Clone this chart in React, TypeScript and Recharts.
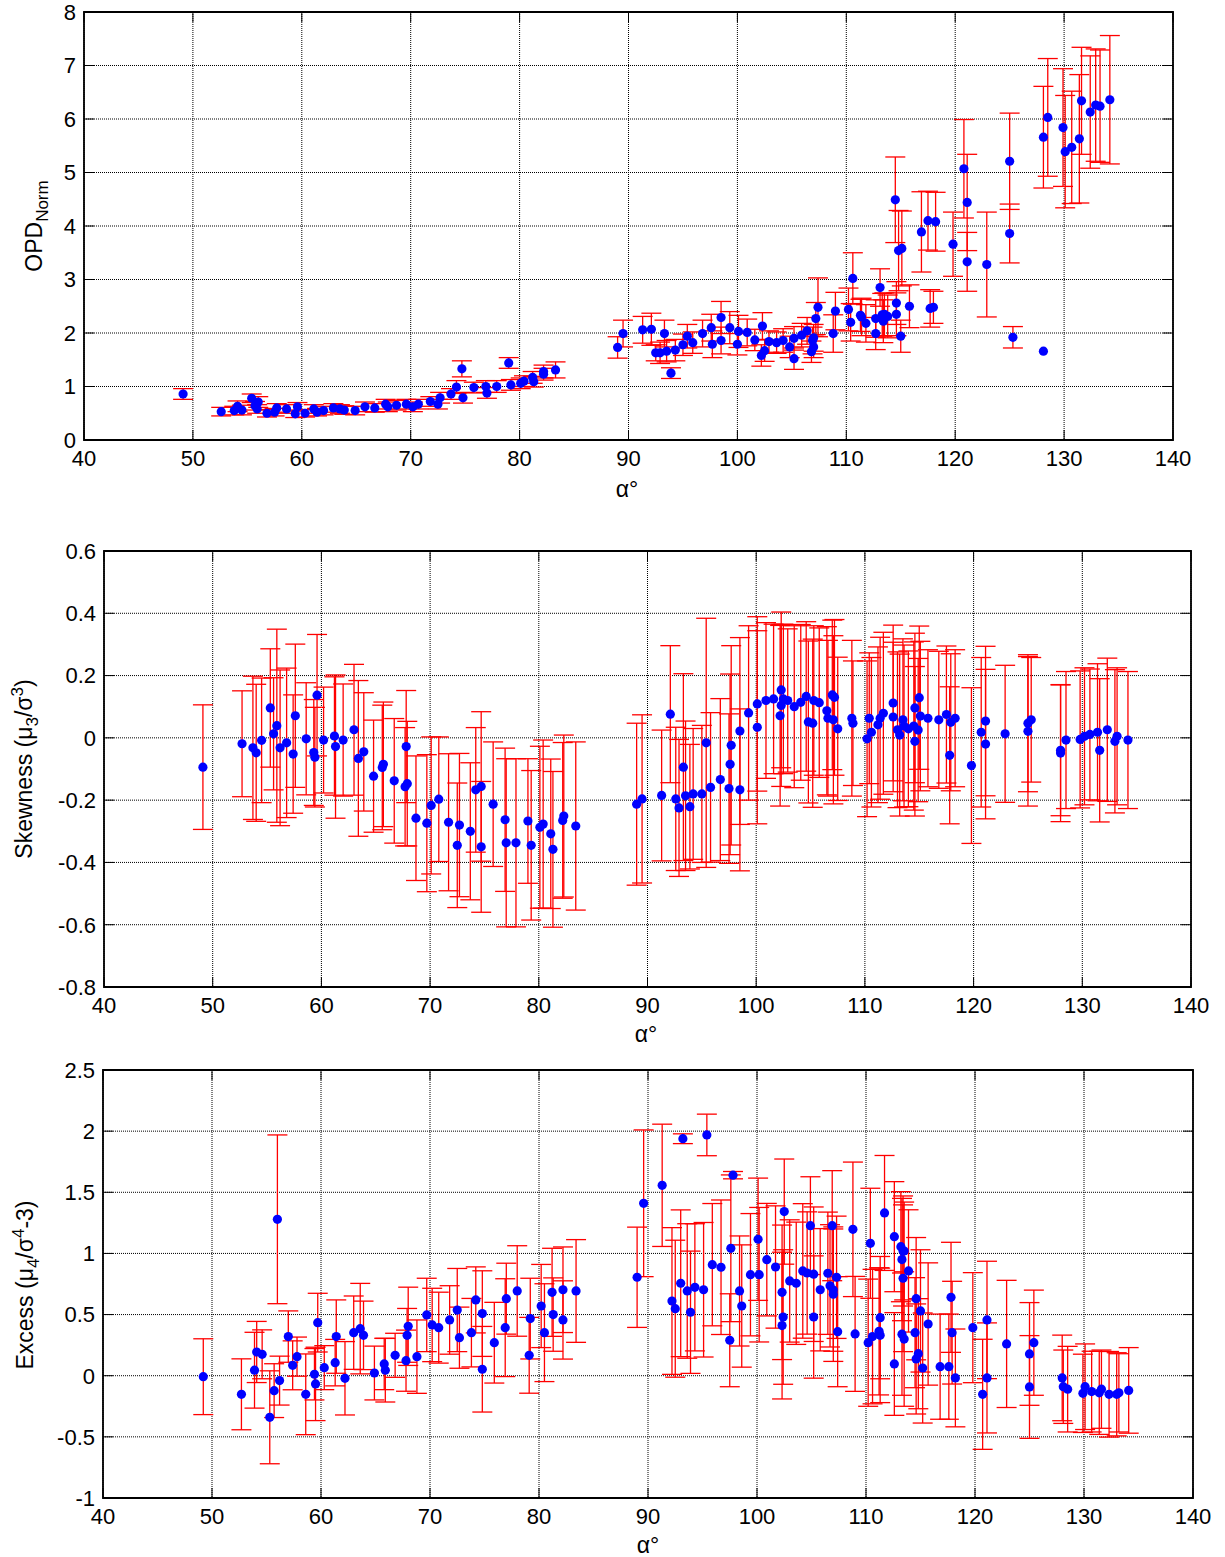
import React from "react"
import { ScatterChart, Scatter, XAxis, YAxis, CartesianGrid, ErrorBar, ReferenceArea } from "recharts"

// alpha (deg) shared tick labels
const alphaTicks = [40, 50, 60, 70, 80, 90, 100, 110, 120, 130, 140]

// OPD_Norm panel
const opdAlpha = [
  49.1, 52.6, 53.8, 54.1, 54.5, 55.4, 55.7, 56.0, 55.9, 56.8, 57.5, 57.7, 58.6, 59.4, 59.6, 60.3, 61.1, 61.4, 62.0, 62.9,
  63.5, 63.9, 64.9, 65.8, 66.7, 67.7, 67.9, 68.7, 69.6, 70.2, 70.7, 71.8, 72.5, 72.7, 73.7, 74.2, 74.7, 74.8, 75.8, 76.9,
  77.0, 77.9, 79.0, 79.2, 80.1, 80.4, 81.2, 81.3, 82.2, 82.2, 83.3,
  89.0, 89.5, 91.3, 92.1, 92.5, 92.9, 93.3, 93.5, 93.9, 94.3, 95.0, 95.4, 95.9, 96.8, 97.6, 97.7, 98.5, 98.5, 99.3, 100.0,
  100.1, 100.9, 101.6, 102.3, 102.2, 102.5, 102.9, 103.6, 104.2, 104.8, 105.2, 105.2, 105.9, 106.4, 106.9, 107.0, 106.8,
  107.0, 107.2, 107.4, 108.8, 109.0, 110.2, 110.4, 110.6, 111.3, 111.4, 111.8, 112.7, 112.7, 113.1, 113.3, 113.4, 113.5,
  113.8, 114.6, 114.6, 114.5, 115.0, 114.8, 115.1, 115.8, 116.9, 117.5, 118.2, 117.7, 118.0, 119.8, 120.8, 121.1, 121.1,
  122.9, 125.0, 125.0, 125.3, 128.1, 128.1, 128.5, 129.9, 130.1, 130.7, 131.4, 131.6, 132.4, 132.9, 133.3, 134.2,
]
const opdValue = [
  0.86, 0.53, 0.55, 0.63, 0.56, 0.78, 0.64, 0.71, 0.58, 0.5, 0.52, 0.6, 0.58, 0.49, 0.62, 0.5, 0.58, 0.52, 0.55, 0.6,
  0.58, 0.56, 0.55, 0.62, 0.6, 0.67, 0.62, 0.65, 0.67, 0.62, 0.67, 0.72, 0.67, 0.79, 0.86, 0.99, 1.33, 0.79, 0.98, 1.0,
  0.88, 1.0, 1.44, 1.03, 1.06, 1.1, 1.17, 1.09, 1.28, 1.23, 1.31,
  1.73, 1.99, 2.06, 2.07, 1.63, 1.63, 1.99, 1.66, 1.25, 1.68, 1.78, 1.94, 1.82, 1.99, 2.1, 1.79, 2.29, 1.86, 2.1, 1.79,
  2.03, 2.01, 1.87, 2.13, 1.58, 1.67, 1.84, 1.82, 1.86, 1.74, 1.52, 1.9, 1.96, 2.04, 1.86, 1.74, 1.65,
  1.91, 2.27, 2.48, 1.99, 2.41, 2.44, 2.2, 3.02, 2.33, 2.3, 2.18, 1.99, 2.27, 2.85, 2.34, 2.22, 2.35,
  2.31, 2.56, 2.35, 4.49, 1.94, 3.54, 3.58, 2.5, 3.89, 4.1, 4.08, 2.46, 2.48, 3.66, 5.07, 4.44, 3.33,
  3.28, 5.21, 3.86, 1.92, 1.66, 5.66, 6.03, 5.84, 5.39, 5.47, 5.63, 6.34, 6.13, 6.26, 6.24, 6.36,
]
const opdError = [
  0.1, 0.08, 0.08, 0.1, 0.09, 0.08, 0.08, 0.1, 0.08, 0.07, 0.07, 0.08, 0.08, 0.07, 0.08, 0.07, 0.08, 0.07, 0.08, 0.08,
  0.08, 0.08, 0.08, 0.09, 0.08, 0.09, 0.09, 0.09, 0.09, 0.09, 0.09, 0.09, 0.09, 0.1, 0.1, 0.12, 0.15, 0.1, 0.1, 0.11,
  0.1, 0.11, 0.1, 0.1, 0.1, 0.1, 0.11, 0.1, 0.12, 0.11, 0.15,
  0.2, 0.25, 0.25, 0.3, 0.15, 0.2, 0.25, 0.2, 0.1, 0.2, 0.2, 0.22, 0.2, 0.25, 0.25, 0.25, 0.3, 0.25, 0.3, 0.2,
  0.3, 0.25, 0.2, 0.25, 0.2, 0.2, 0.2, 0.2, 0.22, 0.2, 0.2, 0.22, 0.22, 0.25, 0.25, 0.2, 0.2,
  0.25, 0.3, 0.55, 0.35, 0.35, 0.4, 0.35, 0.48, 0.3, 0.35, 0.35, 0.3, 0.35, 0.35, 0.4, 0.4, 0.4,
  0.4, 0.4, 0.4, 0.8, 0.3, 0.75, 0.7, 0.4, 0.75, 0.55, 0.55, 0.35, 0.3, 0.6, 0.92, 0.9, 0.55,
  0.98, 0.9, 0.55, 0.2, 0, 0.95, 1.1, 1.1, 1.05, 1.05, 1.2, 1.0, 1.05, 1.05, 1.05, 1.2,
]

// skewness panel
const skewAlpha = [
  49.1, 52.7, 53.7, 54.0, 54.5, 55.3, 55.6, 55.9, 56.2, 56.8, 57.4, 57.6, 58.6, 59.3, 59.4, 59.6, 60.2, 61.2, 61.3, 62.0,
  63.0, 63.4, 63.9, 64.8, 65.6, 65.7, 66.7, 67.7, 67.9, 67.8, 68.7, 69.7, 70.1, 70.8, 71.7, 72.5, 72.7, 73.7, 74.2, 74.7,
  74.7, 75.8, 76.9, 77.0, 77.9, 79.0, 79.3, 80.1, 80.4, 81.1, 81.3, 82.2, 82.3, 83.4,
  89.0, 89.5, 91.3, 92.1, 92.6, 92.9, 93.3, 93.5, 93.9, 94.2, 95.0, 95.4, 95.8, 96.7, 97.5, 97.6, 97.7, 98.5, 98.5, 99.3,
  100.1, 100.1, 100.9, 101.6, 102.2, 102.3, 102.3, 102.5, 102.9, 103.5, 104.1, 104.6, 104.8, 105.2, 105.3, 105.8, 106.5,
  106.6, 107.0, 107.2, 107.1, 107.5, 108.8, 108.9, 110.2, 110.4, 110.6, 111.2, 111.4, 111.7, 112.6, 112.6, 113.0, 113.2,
  113.5, 113.6, 114.0, 114.6, 114.6, 114.5, 114.9, 115.0, 115.1, 115.8, 116.8, 117.5, 117.8, 117.9, 118.3, 119.8, 120.7,
  121.1, 121.1, 122.9, 125.0, 125.0, 125.3, 128.0, 128.0, 128.5, 129.8, 130.2, 130.7, 131.4, 131.6, 132.3, 133.0, 133.2,
  134.2,
]
const skewValue = [
  -0.094, -0.019, -0.032, -0.048, -0.008, 0.096, 0.013, 0.039, -0.032, -0.016, -0.052, 0.071, -0.003, -0.047, -0.062,
  0.137, -0.007, 0.006, -0.028, -0.007, 0.026, -0.066, -0.045, -0.123, -0.095, -0.085, -0.138, -0.157, -0.147, -0.028,
  -0.258, -0.274, -0.217, -0.197, -0.271, -0.345, -0.28, -0.3, -0.167, -0.156, -0.35, -0.213, -0.263, -0.337, -0.337,
  -0.267, -0.345, -0.287, -0.277, -0.308, -0.358, -0.265, -0.251, -0.283,
  -0.213, -0.196, -0.185, 0.076, -0.196, -0.225, -0.094, -0.186, -0.221, -0.18, -0.18, -0.016, -0.159, -0.134, -0.163,
  -0.085, -0.024, -0.167, 0.022, 0.08, 0.034, 0.109, 0.12, 0.125, 0.071, 0.154, 0.104, 0.125, 0.12, 0.1, 0.114, 0.133,
  0.051, 0.047, 0.12, 0.113, 0.087, 0.063, 0.138, 0.13, 0.058, 0.029, 0.063, 0.047, -0.003, 0.063, 0.018, 0.042, 0.063,
  0.079, 0.112, 0.067, 0.026, 0.009, 0.058, 0.038, 0.029, 0.096, -0.011, 0.038, 0.025, 0.129, 0.07, 0.063, 0.058, 0.075,
  -0.056, 0.05, 0.063, -0.089, 0.018, 0.054, -0.02, 0.013, 0.047, 0.021, 0.058, -0.04, -0.049, -0.007, -0.005, 0.005,
  0.011, 0.018, -0.04, 0.026, -0.011, 0.005, -0.007,
]
const skewError = [
  0.2, 0.17, 0.23, 0.22, 0.2, 0.19, 0.18, 0.31, 0.25, 0.24, 0.19, 0.23, 0.18, 0.17, 0.16, 0.195, 0.17, 0.19, 0.23, 0.18,
  0.21, 0.25, 0.19, 0.18, 0.2, 0.2, 0.2, 0.19, 0.2, 0.18, 0.2, 0.22, 0.22, 0.2, 0.22, 0.2, 0.23, 0.22, 0.2, 0.24,
  0.21, 0.2, 0.23, 0.27, 0.27, 0.2, 0.24, 0.26, 0.27, 0.24, 0.25, 0.25, 0.26, 0.27,
  0.26, 0.27, 0.21, 0.22, 0.23, 0.22, 0.3, 0.24, 0.2, 0.21, 0.22, 0.4, 0.24, 0.26, 0.24, 0.29, 0.32, 0.26, 0.3, 0.28,
  0.31, 0.28, 0.25, 0.24, 0.29, 0.25, 0.26, 0.24, 0.23, 0.26, 0.25, 0.24, 0.26, 0.27, 0.24, 0.24, 0.27,
  0.25, 0.24, 0.25, 0.27, 0.23, 0.25, 0.2, 0.25, 0.21, 0.24, 0.25, 0.26, 0.26, 0.25, 0.24, 0.25, 0.26,
  0.26, 0.26, 0.25, 0.24, 0.24, 0.27, 0.23, 0.23, 0.24, 0.22, 0.22, 0.22, 0.22, 0.22, 0.22, 0.25, 0.24,
  0.24, 0.24, 0.22, 0.22, 0.24, 0.2, 0.21, 0.22, 0.22, 0.22, 0.22, 0.21, 0.22, 0.23, 0.23, 0.23, 0.22,
  0.22,
]

// excess kurtosis panel
const excessAlpha = [
  49.2, 52.7, 53.9, 54.1, 54.6, 55.3, 55.7, 56.0, 56.2, 57.0, 57.4, 57.8, 58.6, 59.4, 59.5, 59.7, 60.3, 61.3, 61.4, 62.2,
  63.0, 63.6, 63.9, 64.9, 65.8, 65.9, 66.8, 67.8, 67.9, 68.0, 68.8, 69.7, 70.2, 70.8, 71.8, 72.5, 72.7, 73.8, 74.2, 74.8,
  74.8, 75.9, 76.9, 77.0, 78.0, 79.1, 79.2, 80.2, 80.5, 81.2, 81.3, 82.2, 82.2, 83.4,
  89.0, 89.6, 91.3, 92.2, 92.5, 93.0, 93.2, 93.6, 93.9, 94.3, 95.1, 95.4, 95.9, 96.7, 97.5, 97.6, 97.8, 98.4, 98.6, 99.4,
  100.1, 100.2, 100.9, 101.7, 102.3, 102.4, 102.3, 102.5, 103.0, 103.6, 104.2, 104.6, 104.9, 105.2, 105.2, 105.8, 106.5,
  106.7, 106.9, 107.0, 107.0, 107.3, 107.4, 108.8, 109.0, 110.2, 110.4, 110.6, 111.2, 111.3, 111.3, 111.7, 112.6, 112.6,
  113.2, 113.3, 113.3, 113.4, 113.4, 113.5, 113.5, 113.9, 114.5, 114.6, 114.6, 114.8, 115.0, 115.2, 115.7, 116.8, 117.6,
  117.8, 117.9, 118.2, 119.8, 120.7, 121.1, 121.1, 122.9, 125.0, 125.0, 125.4, 128.0, 128.1, 128.5, 129.9, 130.1, 130.7,
  131.4, 131.6, 132.3, 133.0, 133.2, 134.1,
]
const excessValue = [
  -0.008, -0.152, 0.045, 0.194, 0.175, -0.34, -0.122, 1.279, -0.04, 0.32, 0.085, 0.156, -0.152, 0.012, -0.067, 0.434,
  0.066, 0.107, 0.32, -0.021, 0.352, 0.385, 0.33, 0.022, 0.096, 0.045, 0.167, 0.123, 0.33, 0.404, 0.156, 0.497, 0.415,
  0.393, 0.456, 0.537, 0.311, 0.352, 0.62, 0.508, 0.053, 0.27, 0.393, 0.63, 0.693, 0.167, 0.467, 0.57, 0.352, 0.682, 0.5,
  0.703, 0.456, 0.693,
  0.805, 1.41, 1.557, 0.611, 0.548, 0.756, 1.938, 0.693, 0.519, 0.723, 0.703, 1.969, 0.908, 0.887, 0.29, 1.042, 1.64,
  0.693, 0.57, 0.826, 1.116, 0.826, 0.949, 0.889, 0.682, 0.48, 0.41, 1.342, 0.775, 0.756, 0.857, 0.84, 1.227, 0.48, 0.83,
  0.703, 0.838, 0.735, 1.227, 0.7, 0.667, 0.805, 0.36, 1.197, 0.342, 0.27, 1.083, 0.32, 0.363, 0.475, 0.33, 1.331, 1.137,
  0.096, 1.055, 0.34, 0.95, 1.02, 0.797, 0.3, 1.02, 0.857, 0.352, 0.63, 0.137, 0.18, 0.53, 0.063, 0.423, 0.074, 0.074,
  0.641, 0.352, -0.018, 0.393, -0.152, 0.456, -0.018, 0.26, 0.178, -0.092, 0.27, -0.018, -0.09, -0.11, -0.144, -0.09,
  -0.13, -0.14, -0.11, -0.152, -0.152, -0.14, -0.12,
]
const excessError = [
  0.31, 0.29, 0.31, 0.25, 0.2, 0.38, 0.22, 0.69, 0.2, 0.21, 0.2, 0.16, 0.33, 0.21, 0.3, 0.24, 0.18, 0.19, 0.3, 0.3,
  0.3, 0.37, 0.28, 0.22, 0.21, 0.26, 0.18, 0.25, 0.22, 0.32, 0.3, 0.3, 0.3, 0.29, 0.28, 0.34, 0.25, 0.28, 0.27, 0.35,
  0.35, 0.33, 0.4, 0.29, 0.37, 0.31, 0.33, 0.34, 0.4, 0.36, 0.3, 0.35, 0.32, 0.42,
  0.41, 0.6, 0.5, 0.6, 0.56, 0.6, 0.04, 0.55, 0.5, 0.52, 0.55, 0.17, 0.5, 0.55, 0.38, 0.6, 0.03, 0.45, 0.5, 0.5,
  0.5, 0.55, 0.46, 0.5, 0.55, 0.55, 0.6, 0.43, 0.5, 0.5, 0.55, 0.5, 0.4, 0.5, 0.55, 0.5, 0.5,
  0.5, 0.45, 0.5, 0.55, 0.5, 0.45, 0.55, 0.47, 0.52, 0.45, 0.55, 0.52, 0.5, 0.55, 0.47, 0.45, 0.42,
  0.45, 0.5, 0.5, 0.45, 0.6, 0.55, 0.4, 0.5, 0.45, 0.5, 0.45, 0.45, 0.5, 0.45, 0.5, 0.43, 0.43,
  0.45, 0.42, 0.4, 0.45, 0.45, 0.48, 0.45, 0.52, 0.42, 0.42, 0.43, 0.35, 0.3, 0.35, 0.32, 0.35, 0.33,
  0.34, 0.32, 0.35, 0.34, 0.32, 0.35,
]

const opdTicks = [0, 1, 2, 3, 4, 5, 6, 7, 8]
const skewTicks = [-0.8, -0.6, -0.4, -0.2, 0, 0.2, 0.4, 0.6]
const excessTicks = [-1, -0.5, 0, 0.5, 1, 1.5, 2, 2.5]

const FONT = '"Liberation Sans", Arial, Helvetica, sans-serif'
const TICK_LEN = 10
const X_DOMAIN: [number, number] = [40, 140]

const zip = (a: number[], v: number[], e: number[]) => a.map((x, i) => ({ x, y: v[i], e: e[i] }))

const Dot = (props: any) => <circle cx={props.cx} cy={props.cy} r={4.6} fill="#0000ff" />

function makeXTick(plotH: number) {
  return (props: any) => {
    const { x, y, payload } = props
    const axisY = y - 8
    return (
      <g>
        <line x1={x} x2={x} y1={axisY} y2={axisY - TICK_LEN} stroke="#000" strokeWidth={1} />
        <line x1={x} x2={x} y1={axisY - plotH} y2={axisY - plotH + TICK_LEN} stroke="#000" strokeWidth={1} />
        <text x={x} y={y + 2} dy="0.71em" textAnchor="middle" fontSize={22} fontFamily={FONT} fill="#000">
          {payload.value}
        </text>
      </g>
    )
  }
}

function makeYTick(plotW: number) {
  return (props: any) => {
    const { x, y, payload } = props
    const axisX = x + 8
    return (
      <g>
        <line x1={axisX} x2={axisX + TICK_LEN} y1={y} y2={y} stroke="#000" strokeWidth={1} />
        <line x1={axisX + plotW} x2={axisX + plotW - TICK_LEN} y1={y} y2={y} stroke="#000" strokeWidth={1} />
        <text x={x} y={y} dy="0.355em" textAnchor="end" fontSize={22} fontFamily={FONT} fill="#000">
          {payload.value}
        </text>
      </g>
    )
  }
}

type PanelProps = {
  top: number
  height: number
  margin: { top: number; right: number; bottom: number; left: number }
  data: { x: number; y: number; e: number }[]
  yDomain: [number, number]
  yTicks: number[]
}

function Panel({ top, height, margin, data, yDomain, yTicks }: PanelProps) {
  const plotW = 1225 - margin.left - margin.right - 60
  const plotH = height - margin.top - margin.bottom - 30
  return (
    <div style={{ position: "absolute", top, left: 0 }}>
      <ScatterChart width={1225} height={height} margin={margin}>
        <CartesianGrid stroke="#000" strokeWidth={1} strokeDasharray="1 1" />
        <XAxis
          type="number"
          dataKey="x"
          domain={X_DOMAIN}
          ticks={alphaTicks}
          interval={0}
          height={30}
          tickLine={false}
          axisLine={false}
          tick={makeXTick(plotH)}
          allowDataOverflow
        />
        <YAxis
          type="number"
          dataKey="y"
          domain={yDomain}
          ticks={yTicks}
          interval={0}
          width={60}
          tickLine={false}
          axisLine={false}
          tick={makeYTick(plotW)}
          allowDataOverflow
        />
        {/* axes box */}
        <ReferenceArea
          x1={X_DOMAIN[0]}
          x2={X_DOMAIN[1]}
          y1={yDomain[0]}
          y2={yDomain[1]}
          fill="none"
          fillOpacity={0}
          stroke="#000"
          strokeWidth={1.8}
          ifOverflow="visible"
        />
        <Scatter data={data} shape={Dot} isAnimationActive={false}>
          <ErrorBar dataKey="e" direction="y" width={10} stroke="#ff0000" strokeWidth={1.3} />
        </Scatter>
      </ScatterChart>
    </div>
  )
}

const labelStyle: React.CSSProperties = {
  position: "absolute",
  whiteSpace: "nowrap",
  fontFamily: FONT,
  fontSize: 23,
  color: "#000",
  lineHeight: 1,
}

function YLabel({ cx, cy, children }: { cx: number; cy: number; children: React.ReactNode }) {
  return (
    <div style={{ ...labelStyle, left: cx, top: cy, transform: "translate(-50%, -50%) rotate(-90deg)" }}>
      {children}
    </div>
  )
}

function XLabel({ cx, cy }: { cx: number; cy: number }) {
  return <div style={{ ...labelStyle, left: cx, top: cy, transform: "translate(-50%, -50%)" }}>α°</div>
}

export default function App() {
  return (
    <div style={{ position: "absolute", top: 0, left: 0, width: 1225, height: 1557, background: "#fff" }}>
      <Panel
        top={0}
        height={500}
        margin={{ top: 12, right: 52, bottom: 30, left: 24 }}
        data={zip(opdAlpha, opdValue, opdError)}
        yDomain={[0, 8]}
        yTicks={opdTicks}
      />
      <Panel
        top={520}
        height={520}
        margin={{ top: 31, right: 34, bottom: 23, left: 44 }}
        data={zip(skewAlpha, skewValue, skewError)}
        yDomain={[-0.8, 0.6]}
        yTicks={skewTicks}
      />
      <Panel
        top={1040}
        height={517}
        margin={{ top: 30, right: 32, bottom: 29, left: 43 }}
        data={zip(excessAlpha, excessValue, excessError)}
        yDomain={[-1, 2.5]}
        yTicks={excessTicks}
      />
      <YLabel cx={37} cy={226}>
        OPD<sub style={{ fontSize: 17 }}>Norm</sub>
      </YLabel>
      <XLabel cx={627} cy={489} />
      <YLabel cx={25} cy={769}>
        Skewness (μ<sub style={{ fontSize: 17 }}>3</sub>/σ<sup style={{ fontSize: 17 }}>3</sup>)
      </YLabel>
      <XLabel cx={646} cy={1034} />
      <YLabel cx={26} cy={1285}>
        Excess (μ<sub style={{ fontSize: 17 }}>4</sub>/σ<sup style={{ fontSize: 17 }}>4</sup>-3)
      </YLabel>
      <XLabel cx={648} cy={1545} />
    </div>
  )
}
